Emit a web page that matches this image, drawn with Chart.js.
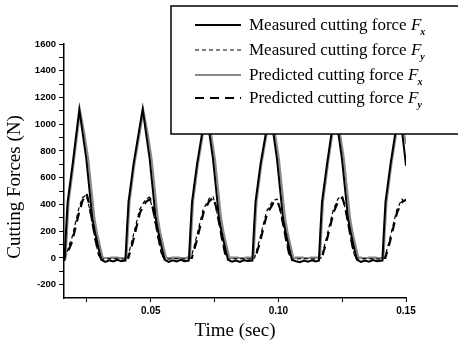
<!DOCTYPE html>
<html>
<head>
<meta charset="utf-8">
<script src="https://cdn.jsdelivr.net/npm/chart.js@4"></script>
<title>Cutting forces</title>
<style>
  body { margin: 0; background: #fff; }
  .wrap { width: 458px; height: 349px; position: relative; }
</style>
</head>
<body>
<div class="wrap">
  <canvas id="chart-1" width="458" height="349"></canvas>
</div>

<script>
  // time (s), force (N)
  const measuredFx = [
    [0.01600,-15],[0.01624,0],[0.01683,220],[0.01742,420],[0.01937,700],[0.02200,1110],
    [0.02318,950],[0.02474,740],[0.02592,520],[0.02709,300],[0.02827,180],[0.02944,80],[0.03062,-15],
    [0.03219,-30],[0.03375,-18],[0.03532,-27],[0.03689,-15],[0.03846,-25],[0.04000,-20],
    [0.04010,0],[0.04069,220],[0.04128,420],[0.04323,700],[0.04683,1115],
    [0.04801,950],[0.04957,740],[0.05075,520],[0.05192,300],[0.05310,180],[0.05427,80],[0.05545,-15],
    [0.05702,-30],[0.05858,-18],[0.06015,-27],[0.06172,-15],[0.06329,-25],[0.06488,-20],
    [0.06498,0],[0.06557,220],[0.06616,420],[0.06811,700],[0.07164,1110],
    [0.07282,950],[0.07438,740],[0.07556,520],[0.07673,300],[0.07791,180],[0.07908,80],[0.08026,-15],
    [0.08183,-28],[0.08339,-20],[0.08496,-30],[0.08653,-17],[0.08810,-24],[0.08975,-20],
    [0.08985,0],[0.09044,220],[0.09103,420],[0.09298,700],[0.09671,1110],
    [0.09789,950],[0.09945,740],[0.10063,520],[0.10180,300],[0.10298,180],[0.10415,80],[0.10533,-15],
    [0.10690,-25],[0.10846,-32],[0.11003,-20],[0.11160,-28],[0.11317,-18],[0.11474,-26],[0.11581,-20],
    [0.11591,0],[0.11650,220],[0.11709,420],[0.11904,700],[0.12218,1110],
    [0.12336,950],[0.12492,740],[0.12610,520],[0.12727,300],[0.12845,180],[0.12962,80],[0.13080,-15],
    [0.13237,-30],[0.13393,-20],[0.13550,-28],[0.13707,-16],[0.13864,-25],[0.14069,-20],
    [0.14079,0],[0.14138,220],[0.14197,420],[0.14392,700],[0.14725,1110],
    [0.14843,950],[0.14960,760],[0.15000,690]
  ];

  const measuredFy = [
    [0.01600,0],[0.01700,30],[0.01810,100],[0.01910,150],[0.02180,370],[0.02320,450],[0.02470,470],
    [0.02600,370],[0.02720,240],[0.02840,120],[0.02960,20],[0.03060,-10],[0.03500,-5],[0.04000,-10],
    [0.04090,0],[0.04280,140],[0.04560,360],[0.04800,440],[0.04950,455],
    [0.05080,360],[0.05200,240],[0.05320,120],[0.05440,20],[0.05540,-10],[0.06000,-5],[0.06470,-10],
    [0.06580,0],[0.06770,140],[0.07050,360],[0.07290,445],[0.07440,460],
    [0.07570,365],[0.07690,245],[0.07810,120],[0.07930,20],[0.08030,-10],[0.08500,-5],[0.08960,-10],
    [0.09070,0],[0.09260,135],[0.09540,350],[0.09790,430],[0.09950,440],
    [0.10080,350],[0.10200,235],[0.10320,115],[0.10440,20],[0.10540,-10],[0.11000,-5],[0.11570,-10],
    [0.11680,0],[0.11870,140],[0.12150,360],[0.12340,445],[0.12490,460],
    [0.12620,365],[0.12740,245],[0.12860,120],[0.12980,20],[0.13080,-10],[0.13500,-5],[0.14060,-10],
    [0.14170,0],[0.14360,140],[0.14640,360],[0.14840,440],[0.15000,400]
  ];

  const predictedFx = [
    [0.01600,0],[0.01664,0],[0.01724,220],[0.01784,420],[0.01974,700],[0.02230,1100],
    [0.02400,930],[0.02550,740],[0.02670,520],[0.02790,300],[0.02900,180],[0.03020,80],[0.03120,0],
    [0.04050,0],[0.04110,220],[0.04170,420],[0.04360,700],[0.04713,1100],
    [0.04883,930],[0.05033,740],[0.05153,520],[0.05273,300],[0.05383,180],[0.05503,80],[0.05603,0],
    [0.06538,0],[0.06598,220],[0.06658,420],[0.06848,700],[0.07194,1100],
    [0.07364,930],[0.07514,740],[0.07634,520],[0.07754,300],[0.07864,180],[0.07984,80],[0.08084,0],
    [0.09025,0],[0.09085,220],[0.09145,420],[0.09335,700],[0.09701,1100],
    [0.09871,930],[0.10021,740],[0.10141,520],[0.10261,300],[0.10371,180],[0.10491,80],[0.10591,0],
    [0.11631,0],[0.11691,220],[0.11751,420],[0.11941,700],[0.12248,1100],
    [0.12418,930],[0.12568,740],[0.12688,520],[0.12808,300],[0.12918,180],[0.13038,80],[0.13138,0],
    [0.14119,0],[0.14179,220],[0.14239,420],[0.14429,700],[0.14755,1100],
    [0.14925,930],[0.15000,850]
  ];

  const predictedFy = [
    [0.01600,10],[0.01650,50],[0.01700,20],[0.01914,120],[0.02194,340],[0.02330,430],[0.02490,480],
    [0.02590,400],[0.02710,270],[0.02830,140],[0.02940,40],[0.03040,0],
    [0.04120,0],[0.04300,120],[0.04580,340],[0.04813,420],[0.04973,440],
    [0.05073,380],[0.05193,260],[0.05313,140],[0.05423,40],[0.05523,0],
    [0.06608,0],[0.06788,120],[0.07068,340],[0.07294,425],[0.07454,450],
    [0.07554,385],[0.07674,265],[0.07794,140],[0.07904,40],[0.08004,0],
    [0.09095,0],[0.09275,115],[0.09555,330],[0.09801,410],[0.09961,425],
    [0.10061,370],[0.10181,255],[0.10301,135],[0.10411,40],[0.10511,0],
    [0.11701,0],[0.11881,120],[0.12161,340],[0.12348,425],[0.12508,450],
    [0.12608,385],[0.12728,265],[0.12848,140],[0.12958,40],[0.13058,0],
    [0.14189,0],[0.14369,120],[0.14649,340],[0.14855,420],[0.15000,436]
  ];

  const yTicks = [-200, -100, 0, 100, 200, 300, 400, 500, 600, 700, 800, 900, 1000, 1100, 1200, 1300, 1400, 1500, 1600];
  const yLabels = [-200, 0, 200, 400, 600, 800, 1000, 1200, 1400, 1600];
  const xTicks = [0.025, 0.05, 0.075, 0.10, 0.125, 0.15];
  const xLabels = [0.05, 0.10, 0.15];

  const legendItems = [
    { text: 'Measured cutting force ', sub: 'x' },
    { text: 'Measured cutting force ', sub: 'y' },
    { text: 'Predicted cutting force ', sub: 'x' },
    { text: 'Predicted cutting force ', sub: 'y' }
  ];

  const toXY = arr => arr.map(p => ({ x: p[0], y: p[1] }));
  const isMajor = (list, v) => list.some(m => Math.abs(m - v) < 1e-9);

  const styles = [
    { color: '#000', width: 2, dash: [] },
    { color: '#000', width: 1.2, dash: [4, 3] },
    { color: '#8a8a8a', width: 2, dash: [] },
    { color: '#000', width: 2.2, dash: [9, 6] }
  ];
  const series = [measuredFx, measuredFy, predictedFx, predictedFy];

  // legend box drawn on top of the lines, like the original figure
  const boxLegend = {
    id: 'boxLegend',
    afterDatasetsDraw(chart) {
      const ctx = chart.ctx;
      ctx.save();
      ctx.fillStyle = '#fff';
      ctx.fillRect(171, 6, 300, 128);
      ctx.strokeStyle = '#000';
      ctx.lineWidth = 1.5;
      ctx.strokeRect(171, 6, 300, 128);
      const rows = [25, 50, 75, 98];
      legendItems.forEach((item, i) => {
        const st = styles[i];
        ctx.beginPath();
        ctx.strokeStyle = st.color;
        ctx.lineWidth = st.width;
        ctx.setLineDash(st.dash);
        ctx.moveTo(195, rows[i]);
        ctx.lineTo(241, rows[i]);
        ctx.stroke();
        ctx.setLineDash([]);
        ctx.fillStyle = '#000';
        ctx.textBaseline = 'alphabetic';
        ctx.font = '17px "Liberation Serif", serif';
        const base = rows[i] + 5;
        ctx.fillText(item.text, 249, base);
        let x = 249 + ctx.measureText(item.text).width;
        ctx.font = 'italic 17px "Liberation Serif", serif';
        ctx.fillText('F', x, base);
        x += ctx.measureText('F').width;
        ctx.font = 'italic bold 10px "Liberation Serif", serif';
        ctx.fillText(item.sub, x - 1, base + 5);
      });
      ctx.restore();
    },
    afterDraw(chart) {
      const ctx = chart.ctx;
      const area = chart.chartArea;
      ctx.save();
      ctx.fillStyle = '#000';
      ctx.font = '19px "Liberation Serif", serif';
      ctx.textAlign = 'center';
      ctx.textBaseline = 'middle';
      ctx.fillText('Time (sec)', (area.left + area.right) / 2, 331);
      ctx.translate(15, 187);
      ctx.rotate(-Math.PI / 2);
      ctx.fillText('Cutting Forces (N)', 0, 0);
      ctx.restore();
    }
  };

  const config = {
    type: 'line',
    data: {
      datasets: series.map((s, i) => ({
        data: toXY(s),
        borderColor: styles[i].color,
        borderWidth: styles[i].width,
        borderDash: styles[i].dash,
        pointRadius: 0,
        tension: 0,
        fill: false
      }))
    },
    options: {
      responsive: false,
      devicePixelRatio: 1,
      animation: false,
      layout: { padding: { top: 44, right: 52, left: 0, bottom: 0 } },
      plugins: {
        legend: { display: false },
        tooltip: { enabled: false }
      },
      scales: {
        x: {
          type: 'linear',
          min: 0.016,
          max: 0.15,
          afterBuildTicks: s => { s.ticks = xTicks.map(v => ({ value: v })); },
          afterFit: s => { s.height = 51; },
          border: { color: '#000', width: 1.5 },
          grid: { drawOnChartArea: false, color: '#000', tickLength: 4, tickWidth: 1 },
          ticks: {
            autoSkip: false,
            maxRotation: 0,
            padding: 3,
            color: '#000',
            font: { family: '"Liberation Sans", Arial, sans-serif', size: 10, weight: 'bold' },
            callback: v => isMajor(xLabels, v) ? v.toFixed(2) : ''
          }
        },
        y: {
          type: 'linear',
          min: -300,
          max: 1600,
          afterBuildTicks: s => { s.ticks = yTicks.map(v => ({ value: v })); },
          afterFit: s => { s.width = 64; },
          border: { color: '#000', width: 1.5 },
          grid: { drawOnChartArea: false, color: '#000', tickLength: 5, tickWidth: 1 },
          ticks: {
            autoSkip: false,
            padding: 3,
            color: '#000',
            font: { family: '"Liberation Sans", Arial, sans-serif', size: 9.5, weight: 'bold' },
            callback: v => isMajor(yLabels, v) ? String(v) : ''
          }
        }
      }
    },
    plugins: [boxLegend]
  };

  const chart = new Chart(document.getElementById('chart-1'), config);
</script>
</body>
</html>
